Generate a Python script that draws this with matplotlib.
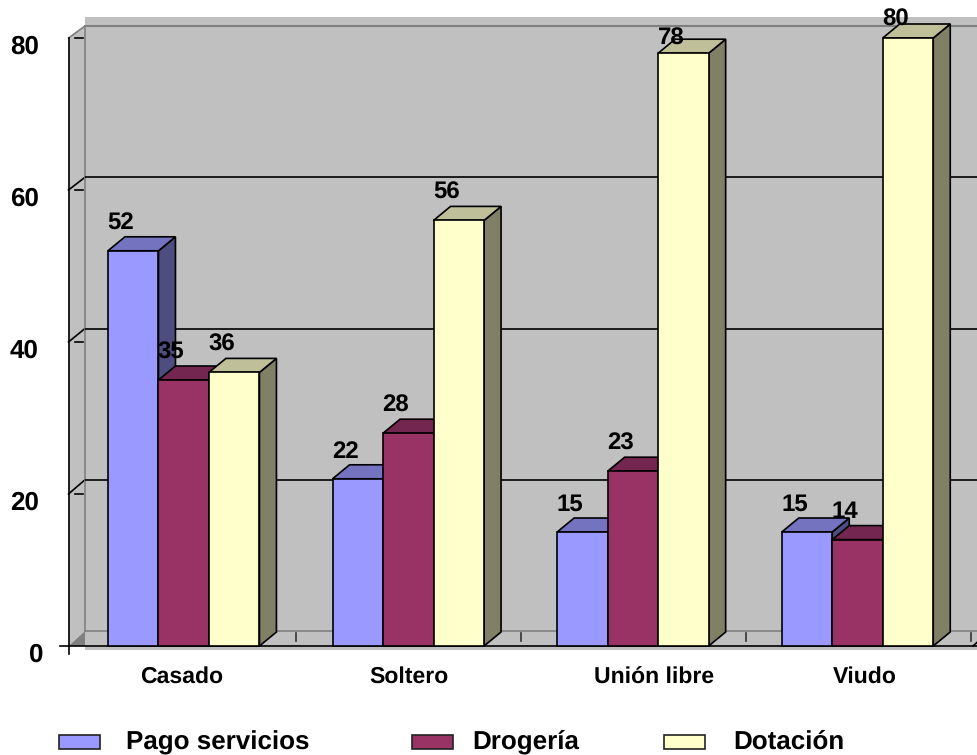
import matplotlib
matplotlib.use('Agg')
import matplotlib.pyplot as plt
from matplotlib.lines import Line2D
from matplotlib.patches import Polygon, Rectangle
from matplotlib.transforms import Affine2D

plt.rcParams['font.family'] = ['Liberation Sans', 'DejaVu Sans']
plt.rcParams['font.weight'] = 'bold'
plt.rcParams['text.hinting'] = 'none'
plt.rcParams['text.hinting_factor'] = 1

# Datos
categorias = ['Casado', 'Soltero', 'Unión libre', 'Viudo']
series = ['Pago servicios', 'Drogería', 'Dotación']
pago_servicios = [52, 22, 15, 15]
drogueria = [35, 28, 23, 14]
dotacion = [36, 56, 78, 80]
marcas_y = [0, 20, 40, 60, 80]

valores = [pago_servicios, drogueria, dotacion]
# colores: frente, techo, lado
colores = [('#9999FF', '#7373BF', '#4D4D80'),
           ('#993366', '#732650', '#4D1A33'),
           ('#FFFFCC', '#BFBF99', '#808066')]

W, H = 978, 755
GRIS = '#C0C0C0'
GRIS_OSC = '#808080'
DX, DY = 17, 14   # profundidad de las barras en pixeles

fig = plt.figure(figsize=(W / 100, H / 100), dpi=100, facecolor='white')
# coordenadas en pixeles con origen arriba a la izquierda
px = Affine2D().scale(1, -1).translate(0, H)


def caja(izq, arriba, der, abajo):
    return [izq / W, 1 - abajo / H, (der - izq) / W, (abajo - arriba) / H]


def linea(xs, ys, color='black', lw=1.2, z=1):
    fig.add_artist(Line2D(xs, ys, color=color, lw=lw, transform=px, zorder=z))


def poligono(puntos, color, z=0):
    fig.add_artist(Polygon(puntos, closed=True, facecolor=color, edgecolor='none', transform=px, zorder=z))


# fondo: pared, piso y lateral
fig.add_artist(Rectangle((85, 17), 893, 633, facecolor=GRIS, edgecolor='none', transform=px, zorder=-3))
poligono([(68.5, 38), (85, 26), (85, 631), (68.5, 646)], GRIS, z=-3)
poligono([(68.5, 646), (85, 631), (85, 646)], GRIS_OSC, z=-2)

# pared del fondo con sus lineas de division
pared = fig.add_axes(caja(85, 26, 978, 631), zorder=-1)
pared.patch.set_visible(False)
pared.set_ylim(0, 80)
pared.set_xticks([])
pared.set_yticks(marcas_y[1:-1])
pared.tick_params(left=False, labelleft=False)
pared.grid(True, axis='y', color='black', lw=1.2)
for s in pared.spines.values():
    s.set_visible(False)

# ejes de las barras: plano frontal
ax = fig.add_axes(caja(68.5, 38, 978, 646), zorder=1)
ax.patch.set_visible(False)
ax.set_xlim((68.5 - 183.7) / 224.6, (978 - 183.7) / 224.6)
ax.set_ylim(0, 80)
ax.set_xticks([])
ax.set_yticks([])
for s in ax.spines.values():
    s.set_visible(False)


def a_pixeles(x, y):
    xd, yd = ax.transData.transform((x, y))
    return xd, H - yd


# lineas del lateral y marcas del eje
for v in marcas_y[1:]:
    _, yf = a_pixeles(0, v)
    _, yb = pared.transData.transform((0, v))
    yb = H - yb
    color = GRIS_OSC if v == 80 else 'black'
    linea([68.5, 85], [yf, yb], color=color, z=-1)
    linea([74.5, 83], [yf, yf], z=-1)

linea([85, 978], [26, 26], color=GRIS_OSC, lw=1.5, z=-1)
linea([85, 85], [26, 631], color=GRIS_OSC, lw=1.2, z=-1)
linea([85, 978], [631, 631], color=GRIS_OSC, lw=1.2, z=-1)
linea([68.5, 68.5], [38, 654], z=0)
linea([60, 978], [646, 646], z=0)
linea([973, 978], [646, 641.5], z=0)
for i in range(4):
    xm = 296 + i * 225
    linea([xm, xm], [633, 641], color='#333333', z=-1)

# barras
ancho = 50.5 / 224.6
for s, vals in enumerate(valores):
    frente, techo, lado = colores[s]
    z = 2 + s
    pos = [i + (s - 1) * ancho for i in range(len(categorias))]
    ax.bar(pos, vals, ancho, color=frente, edgecolor='black', lw=1.2, zorder=z + 0.5, clip_on=False)
    for x, v in zip(pos, vals):
        x0, y1 = a_pixeles(x - ancho / 2, v)
        x1, y0 = a_pixeles(x + ancho / 2, 0)
        ax.add_patch(Polygon([(x1, y1), (x1 + DX, y1 - DY), (x1 + DX, y0 - DY), (x1, y0)],
                             closed=True, facecolor=lado, edgecolor='black', lw=1.2,
                             transform=px, zorder=z, clip_on=False))
        ax.add_patch(Polygon([(x0, y1), (x0 + DX, y1 - DY), (x1 + DX, y1 - DY), (x1, y1)],
                             closed=True, facecolor=techo, edgecolor='black', lw=1.2,
                             transform=px, zorder=z + 0.2, clip_on=False))

# etiquetas de valor, desplazadas en pixeles respecto al techo de cada barra
ajuste_y = {78: 15, 80: 18}
for s, vals in enumerate(valores):
    for i, v in enumerate(vals):
        x = i + (s - 1) * ancho
        sube = ajuste_y.get(v, 27.5)
        ax.annotate(str(v), xy=(x, v), xytext=(-12.5 * 0.72, sube * 0.72), textcoords='offset points',
                    ha='center', va='center', fontsize=17, color='black', zorder=10,
                    annotation_clip=False)

# numeros del eje y
for v in marcas_y:
    xf = 43 if v == 0 else 39
    _, yf = a_pixeles(0, v)
    fig.text(xf, yf + 16, str(v), transform=px, ha='right', va='baseline', fontsize=18.5, color='black')

# nombres de categoria; los textos con acento o descendente quedan corridos al rasterizar
centros = [182, 408.5, 654.5, 865]
base_cat = [683, 683, 684, 683]
for c, y, nombre in zip(centros, base_cat, categorias):
    fig.text(c, y, nombre, transform=px, ha='center', va='baseline', fontsize=16.5, color='black')

# leyenda
muestras = [59, 412, 664]
textos = [126, 472, 733]
base_ley = [749, 748, 749]
for s, nombre in enumerate(series):
    fig.add_artist(Rectangle((muestras[s], 735), 41, 14, facecolor=colores[s][0], edgecolor='#222222',
                             lw=1.2, transform=px))
    fig.text(textos[s], base_ley[s], nombre, transform=px, ha='left', va='baseline', fontsize=18.8, color='black')

fig.savefig('out.png', dpi=100)
